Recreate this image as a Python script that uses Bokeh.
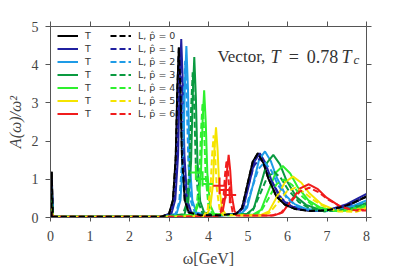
from bokeh.plotting import figure
from bokeh.models import Range1d, LinearAxis, FixedTicker, Legend, LegendItem, Label
from bokeh.embed import file_html
from bokeh.resources import INLINE

# ---------------- data ----------------
p_hat = [0, 1, 2, 3, 4, 5, 6]
colors = ["#000000", "#2020a0", "#1e9be6", "#0a9a40", "#2ef02e", "#f5e400", "#f01c1c"]

w_low = [0.03, 0.03, 0.06, 1.0, 2.0, 2.8]
spike = [1.2, 1.0, 0.8, 0.62, 0.45, 0.3, 0.15]

# transverse (T) spectral functions
wT = [
    [3.00, 3.10, 3.17, 3.21, 3.25, 3.29, 3.33, 3.40, 3.50, 3.8, 4.3,
     4.71, 4.85, 4.98, 5.12, 5.25, 5.39, 5.52, 5.72, 5.93, 6.2, 6.6, 7.0, 7.4, 7.7, 8.0],
    [3.06, 3.16, 3.23, 3.27, 3.31, 3.35, 3.39, 3.46, 3.56, 3.85, 4.35,
     4.74, 4.88, 5.02, 5.16, 5.30, 5.44, 5.58, 5.79, 6.00, 6.28, 6.7, 7.1, 7.5, 8.0],
    [3.19, 3.29, 3.36, 3.40, 3.44, 3.48, 3.52, 3.59, 3.69, 4.0, 4.45,
     4.83, 4.98, 5.13, 5.28, 5.43, 5.58, 5.73, 5.96, 6.18, 6.48, 6.9, 7.3, 7.7, 8.0],
    [3.39, 3.49, 3.56, 3.60, 3.64, 3.68, 3.72, 3.79, 3.89, 4.2, 4.6,
     4.98, 5.15, 5.31, 5.48, 5.64, 5.81, 5.97, 6.22, 6.47, 6.80, 7.2, 7.6, 8.0],
    [3.64, 3.74, 3.81, 3.85, 3.89, 3.93, 3.97, 4.04, 4.14, 4.5, 4.85,
     5.14, 5.33, 5.51, 5.70, 5.88, 6.07, 6.25, 6.53, 6.81, 7.18, 7.6, 8.0],
    [3.94, 4.04, 4.11, 4.15, 4.19, 4.23, 4.27, 4.34, 4.44, 4.75, 5.05,
     5.32, 5.53, 5.73, 5.94, 6.14, 6.35, 6.55, 6.86, 7.17, 7.58, 8.0],
    [4.26, 4.36, 4.43, 4.47, 4.51, 4.55, 4.59, 4.66, 4.76, 5.05, 5.35,
     5.64, 5.87, 6.09, 6.32, 6.54, 6.77, 6.99, 7.33, 7.67, 8.0],
]
aT = [
    [0.09, 0.45, 1.56, 3.34, 4.45, 3.34, 1.56, 0.45, 0.13, 0.06, 0.06,
     0.10, 0.25, 0.84, 1.46, 1.68, 1.43, 1.01, 0.55, 0.34, 0.22, 0.17, 0.19, 0.28, 0.40, 0.55],
    [0.09, 0.47, 1.63, 3.50, 4.67, 3.50, 1.63, 0.47, 0.14, 0.06, 0.06,
     0.10, 0.25, 0.84, 1.46, 1.68, 1.43, 1.01, 0.55, 0.34, 0.22, 0.17, 0.22, 0.35, 0.62],
    [0.09, 0.45, 1.57, 3.37, 4.49, 3.37, 1.57, 0.45, 0.13, 0.06, 0.06,
     0.10, 0.26, 0.87, 1.51, 1.73, 1.47, 1.04, 0.57, 0.35, 0.22, 0.18, 0.22, 0.32, 0.45],
    [0.08, 0.42, 1.47, 3.15, 4.20, 3.15, 1.47, 0.42, 0.13, 0.06, 0.07,
     0.10, 0.25, 0.82, 1.43, 1.64, 1.39, 0.98, 0.54, 0.33, 0.21, 0.18, 0.25, 0.38],
    [0.07, 0.33, 1.17, 2.50, 3.33, 2.50, 1.17, 0.33, 0.10, 0.06, 0.07,
     0.08, 0.20, 0.68, 1.17, 1.35, 1.15, 0.81, 0.45, 0.27, 0.18, 0.22, 0.32],
    [0.05, 0.24, 0.83, 1.77, 2.36, 1.77, 0.83, 0.24, 0.07, 0.06, 0.06,
     0.06, 0.16, 0.54, 0.93, 1.07, 0.91, 0.64, 0.35, 0.21, 0.17, 0.28],
    [0.04, 0.16, 0.57, 1.23, 1.64, 1.23, 0.57, 0.16, 0.06, 0.05, 0.05,
     0.05, 0.13, 0.44, 0.76, 0.87, 0.74, 0.52, 0.29, 0.20, 0.20],
]

# longitudinal (L) spectral functions, p_hat = 1..6 (p_hat = 0 equals T)
wL = [
    [3.03, 3.13, 3.20, 3.24, 3.28, 3.32, 3.36, 3.43, 3.53, 3.85, 4.3,
     4.68, 4.84, 4.99, 5.15, 5.30, 5.46, 5.61, 5.84, 6.08, 6.39, 6.8, 7.2, 7.6, 8.0],
    [3.16, 3.26, 3.33, 3.37, 3.41, 3.45, 3.49, 3.56, 3.66, 3.95, 4.4,
     4.76, 4.93, 5.09, 5.26, 5.42, 5.59, 5.75, 6.00, 6.25, 6.58, 7.0, 7.4, 7.7, 8.0],
    [3.35, 3.45, 3.52, 3.56, 3.60, 3.64, 3.68, 3.75, 3.85, 4.15, 4.6,
     4.94, 5.12, 5.30, 5.48, 5.66, 5.84, 6.02, 6.29, 6.56, 6.92, 7.3, 7.7, 8.0],
    [3.60, 3.70, 3.77, 3.81, 3.85, 3.89, 3.93, 4.00, 4.10, 4.45, 4.85,
     5.12, 5.32, 5.52, 5.72, 5.92, 6.12, 6.32, 6.62, 6.92, 7.32, 7.7, 8.0],
    [3.88, 3.98, 4.05, 4.09, 4.13, 4.17, 4.21, 4.28, 4.38, 4.7, 5.0,
     5.32, 5.54, 5.76, 5.98, 6.20, 6.42, 6.64, 6.97, 7.30, 7.74, 8.0],
    [4.21, 4.31, 4.38, 4.42, 4.46, 4.50, 4.54, 4.61, 4.71, 5.0, 5.4,
     5.59, 5.83, 6.07, 6.31, 6.55, 6.79, 7.03, 7.39, 7.75, 8.0],
]
aL = [
    [0.09, 0.43, 1.51, 3.23, 4.30, 3.23, 1.51, 0.43, 0.13, 0.06, 0.06,
     0.09, 0.23, 0.78, 1.35, 1.55, 1.32, 0.93, 0.51, 0.31, 0.20, 0.17, 0.22, 0.34, 0.55],
    [0.08, 0.41, 1.44, 3.08, 4.10, 3.08, 1.44, 0.41, 0.12, 0.06, 0.06,
     0.09, 0.22, 0.73, 1.26, 1.45, 1.23, 0.87, 0.48, 0.29, 0.19, 0.17, 0.22, 0.30, 0.42],
    [0.08, 0.38, 1.33, 2.85, 3.80, 2.85, 1.33, 0.38, 0.11, 0.06, 0.07,
     0.07, 0.18, 0.60, 1.04, 1.20, 1.02, 0.72, 0.40, 0.24, 0.16, 0.18, 0.26, 0.36],
    [0.06, 0.30, 1.05, 2.25, 3.00, 2.25, 1.05, 0.30, 0.09, 0.06, 0.07,
     0.06, 0.15, 0.50, 0.87, 1.00, 0.85, 0.60, 0.33, 0.20, 0.16, 0.22, 0.30],
    [0.04, 0.22, 0.75, 1.61, 2.15, 1.61, 0.75, 0.22, 0.06, 0.06, 0.06,
     0.05, 0.12, 0.39, 0.68, 0.78, 0.66, 0.47, 0.26, 0.16, 0.15, 0.24],
    [0.03, 0.15, 0.53, 1.13, 1.50, 1.13, 0.53, 0.15, 0.05, 0.05, 0.05,
     0.05, 0.12, 0.39, 0.68, 0.78, 0.66, 0.47, 0.26, 0.18, 0.18],
]

# points with error bars
eb_green_x = [3.68, 3.85, 3.97]
eb_green_y = [1.18, 1.01, 0.88]
eb_green_xerr = 0.14
eb_green_yerr = 0.2
eb_red_x = [4.28, 4.43, 4.54]
eb_red_y = [0.83, 0.72, 0.59]
eb_red_xerr = 0.16
eb_red_yerr = 0.22

x_ticks = [0, 1, 2, 3, 4, 5, 6, 7, 8]
y_ticks = [0, 1, 2, 3, 4, 5]

# ---------------- figure ----------------
AX = "#555555"
TXT = "#444444"
SERIF = "Liberation Serif"

p = figure(width=390, height=271, x_range=Range1d(0, 8), y_range=Range1d(0, 5),
           output_backend="svg", toolbar_location=None,
           min_border_left=50, min_border_right=24, min_border_top=26, min_border_bottom=54)
p.grid.visible = False
p.outline_line_color = None
p.background_fill_color = "white"
p.border_fill_color = "white"


def style_axis(ax, ticks, show_labels, tick_out=5):
    ax.ticker = FixedTicker(ticks=ticks)
    ax.axis_line_color = AX
    ax.major_tick_line_color = AX
    ax.major_tick_out = tick_out
    ax.major_tick_in = 0
    ax.minor_tick_out = 0
    ax.minor_tick_in = 0
    ax.major_label_text_font = SERIF
    ax.major_label_text_color = TXT
    if show_labels:
        ax.major_label_text_font_size = "14px"
    else:
        ax.major_label_text_font_size = "0px"
        ax.major_label_overrides = {t: "" for t in ticks}


style_axis(p.xaxis[0], x_ticks, True, 4)
style_axis(p.yaxis[0], y_ticks, True, 5)
p.xaxis[0].major_label_standoff = 9
p.yaxis[0].major_label_standoff = 7
p.xaxis.axis_label = "ω[GeV]"
p.yaxis.axis_label = "A(ω)/ω²"
for ax in (p.xaxis[0], p.yaxis[0]):
    ax.axis_label_text_font = SERIF
    ax.axis_label_text_font_size = "16px"
    ax.axis_label_text_font_style = "italic"
    ax.axis_label_text_color = TXT
p.xaxis[0].axis_label_standoff = 6
p.yaxis[0].axis_label_standoff = 5
p.xaxis[0].axis_label_text_font_style = "normal"

ax_top = LinearAxis()
style_axis(ax_top, x_ticks, False)
p.add_layout(ax_top, "above")
ax_right = LinearAxis()
style_axis(ax_right, y_ticks, False)
p.add_layout(ax_right, "right")

# ---------------- curves ----------------
rT, rL = [], []
for i in range(7):
    xs = w_low + wT[i]
    ys = [0, spike[i], 0.02, 0.02, 0.02, 0.02] + aT[i]
    rT.append(p.line(xs, ys, line_color=colors[i], line_width=2))

for i in range(1, 7):
    xs = w_low + wL[i - 1]
    ys = [0, spike[i], 0.02, 0.02, 0.02, 0.02] + aL[i - 1]
    rL.append(p.line(xs, ys, line_color=colors[i], line_width=2, line_dash="6 3"))
# p_hat = 0: longitudinal equals transverse
r0 = p.line(w_low + wT[0], [0, spike[0], 0.02, 0.02, 0.02, 0.02] + aT[0],
            line_color=colors[0], line_width=2, line_dash="6 3")
rL.insert(0, r0)

# error bars
for xs_, ys_, ex, ey, c in [(eb_green_x, eb_green_y, eb_green_xerr, eb_green_yerr, colors[4]),
                            (eb_red_x, eb_red_y, eb_red_xerr, eb_red_yerr, colors[6])]:
    p.segment(x0=[x - ex for x in xs_], x1=[x + ex for x in xs_], y0=ys_, y1=ys_,
              line_color=c, line_width=2)
    p.segment(x0=xs_, x1=xs_, y0=[y - ey for y in ys_], y1=[y + ey for y in ys_],
              line_color=c, line_width=2)

# ---------------- legends ----------------
common = dict(border_line_color=None, background_fill_alpha=0, padding=0, margin=0,
              spacing=0, glyph_width=21, glyph_height=13, label_height=13,
              label_standoff=7, label_text_font="DejaVu Sans", label_text_font_size="9.5px",
              label_text_color="#333333")
leg1 = Legend(items=[LegendItem(label="T", renderers=[rT[i]]) for i in range(7)],
              location=(7, 97), **common)
leg2 = Legend(items=[LegendItem(label="L, p\u0302 = %d" % p_hat[i], renderers=[rL[i]]) for i in range(7)],
              location=(60, 97), **common)
p.add_layout(leg1)
p.add_layout(leg2)

# ---------------- annotation ----------------
tstyle = dict(text_font=SERIF, text_font_size="18px", text_color="#333333", text_baseline="alphabetic")
p.add_layout(Label(x=4.226, y=4.21, text="Vector,", text_font=SERIF, text_font_size="17px",
                   text_color="#333333", text_baseline="alphabetic"))
p.add_layout(Label(x=5.571, y=4.21, text="T", text_font_style="italic", **tstyle))
p.add_layout(Label(x=6.03, y=4.21, text="=", **tstyle))
p.add_layout(Label(x=6.49, y=4.21, text="0.78", **tstyle))
p.add_layout(Label(x=7.37, y=4.21, text="T", text_font_style="italic", **tstyle))
p.add_layout(Label(x=7.67, y=4.13, text="c", text_font=SERIF, text_font_size="13px",
                   text_font_style="italic", text_color="#333333", text_baseline="alphabetic"))

open("out.html", "w").write(file_html(p, INLINE))
